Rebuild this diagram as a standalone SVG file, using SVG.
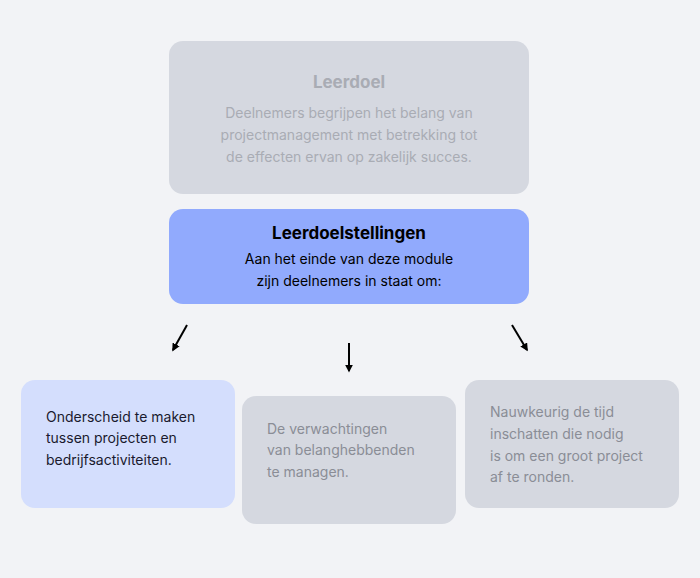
<svg xmlns="http://www.w3.org/2000/svg" width="700" height="578" viewBox="0 0 700 578">
<style>
text{font-family:Inter,"Noto Sans","Liberation Sans",sans-serif}
.g{fill:#d5d8e0}
.t{font-size:14px;fill:#8a8d96}
.c{stroke:#000;stroke-width:2;fill:none}
</style>
<defs><marker id="a" viewBox="0 0 10 10" refX="8" refY="5" markerWidth="4" markerHeight="4" orient="auto"><path d="M0,0L10,5L0,10z" fill="#000"/></marker></defs>
<rect width="700" height="578" fill="#f2f3f6"/>
<g id="leerdoel"><rect class="g" x="169" y="41" width="360" height="153" rx="14"/>
<text x="349" y="88" text-anchor="middle" font-size="17" font-weight="bold" fill="#a9acb4">Leerdoel</text>
<text text-anchor="middle" font-size="14" fill="#a9acb4"><tspan x="349" y="118">Deelnemers begrijpen het belang van</tspan><tspan x="349" y="140">projectmanagement met betrekking tot</tspan><tspan x="349" y="162">de effecten ervan op zakelijk succes.</tspan></text></g>
<g id="stellingen"><rect x="169" y="209" width="360" height="95" rx="14" fill="#91aafd"/>
<text x="349" y="239" text-anchor="middle" font-size="17" font-weight="bold" fill="#000">Leerdoelstellingen</text>
<text text-anchor="middle" font-size="14" fill="#000"><tspan x="349" y="264">Aan het einde van deze module</tspan><tspan x="349" y="286">zijn deelnemers in staat om:</tspan></text></g>
<g id="connectors">
<line class="c" x1="187" y1="325" x2="173" y2="350" marker-end="url(#a)"/>
<line class="c" x1="349" y1="343" x2="349" y2="371" marker-end="url(#a)"/>
<line class="c" x1="512" y1="325" x2="527" y2="350" marker-end="url(#a)"/>
</g>
<g id="n1"><rect x="21" y="380" width="214" height="128" rx="14" fill="#d4defd"/>
<text font-size="14" fill="#1a1a2e"><tspan x="46" y="422">Onderscheid te maken</tspan><tspan x="46" y="443">tussen projecten en</tspan><tspan x="46" y="465">bedrijfsactiviteiten.</tspan></text></g>
<g id="n2"><rect class="g" x="242" y="396" width="214" height="128" rx="14"/>
<text class="t"><tspan x="267" y="434">De verwachtingen</tspan><tspan x="267" y="455">van belanghebbenden</tspan><tspan x="267" y="477">te managen.</tspan></text></g>
<g id="n3"><rect class="g" x="465" y="380" width="214" height="128" rx="14"/>
<text class="t"><tspan x="490" y="417">Nauwkeurig de tijd</tspan><tspan x="490" y="439">inschatten die nodig</tspan><tspan x="490" y="461">is om een groot project</tspan><tspan x="490" y="482">af te ronden.</tspan></text></g>
</svg>
